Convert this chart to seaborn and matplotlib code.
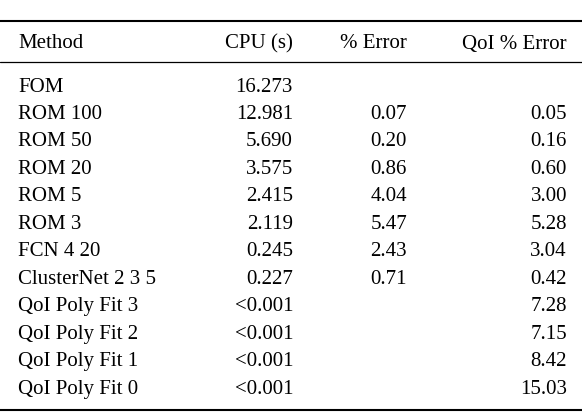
import numpy as np
import pandas as pd
import seaborn as sns
import matplotlib.pyplot as plt

# table contents
methods = ['FOM', 'ROM 100', 'ROM 50', 'ROM 20', 'ROM 5', 'ROM 3', 'FCN 4 20',
           'ClusterNet 2 3 5', 'QoI Poly Fit 3', 'QoI Poly Fit 2',
           'QoI Poly Fit 1', 'QoI Poly Fit 0']
cpu = ['16.273', '12.981', '5.690', '3.575', '2.415', '2.119', '0.245',
       '0.227', '<0.001', '<0.001', '<0.001', '<0.001']
err = ['', '0.07', '0.20', '0.86', '4.04', '5.47', '2.43', '0.71', '', '', '', '']
qoi = ['', '0.05', '0.16', '0.60', '3.00', '5.28', '3.04', '0.42',
       '7.28', '7.15', '8.42', '15.03']
headers = ['Method', 'CPU (s)', '% Error', 'QoI % Error']

dtf = pd.DataFrame({'Method': methods, 'CPU (s)': cpu,
                    '% Error': err, 'QoI % Error': qoi})

sns.set_style('white')
plt.rcParams['font.family'] = ['Liberation Serif', 'DejaVu Serif']

fig = plt.figure(figsize=(5.82, 4.14), dpi=100)
ax = fig.add_axes([0, 0, 1, 1])
ax.set_xlim(0, 582)
ax.set_ylim(414, 0)
ax.axis('off')

fs = 15
colx = [18, 293, 407, 567]
align = ['left', 'right', 'right', 'right']

# rules
ax.plot([0, 582], [22, 22], color='black', lw=1.5)
ax.plot([0, 582], [63, 63], color='black', lw=0.9)
ax.plot([0, 582], [411, 411], color='black', lw=1.5)

for h, x, a in zip(headers, colx, align):
    ax.text(x, 44, h, ha=a, va='center', fontsize=fs, color='black')

y0, dy = 87, 27.5
for i, row in dtf.iterrows():
    y = y0 + i * dy
    for h, x, a in zip(headers, colx, align):
        ax.text(x, y, row[h], ha=a, va='center', fontsize=fs, color='black')

fig.savefig('out.png', dpi=100)
